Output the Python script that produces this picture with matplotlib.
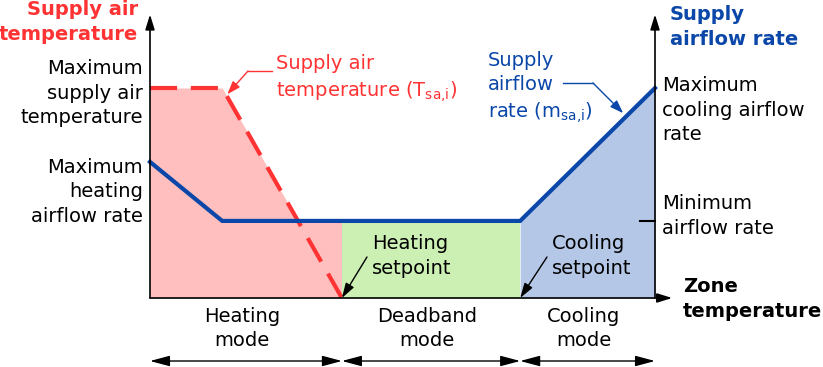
import numpy as np
import matplotlib

matplotlib.use("Agg")
import matplotlib.pyplot as plt
from matplotlib.lines import Line2D

# zone temperature axis, normalised 0..100 between the two vertical axes
ramp_end = 14.3
heating_sp = 38.0
cooling_sp = 73.3
x_max = 100.0

# supply air temperature (normalised to its maximum)
sat_x = [0.0, ramp_end, heating_sp]
sat_y = [1.0, 1.0, 0.0]

# supply airflow rate (normalised to the maximum cooling airflow)
flow_x = [0.0, ramp_end, cooling_sp, x_max]
flow_y = [0.648, 0.367, 0.367, 1.0]

mode_edges = [0.0, heating_sp, cooling_sp, x_max]
mode_labels = ["Heating\nmode", "Deadband\nmode", "Cooling\nmode"]

RED = "#ff3333"
BLUE = "#0a47a8"
PINK = "#ffbfbf"
GREEN = "#ccefb4"
LBLUE = "#b4c7e7"

W, H = 823, 367
FS = 14
plt.rcParams["font.family"] = ["DejaVu Sans"]

fig = plt.figure(figsize=(W / 100, H / 100), dpi=100)
ax = fig.add_axes([150 / W, (H - 298) / H, 505 / W, 210 / H])
ax.set_xlim(0, x_max)
ax.set_ylim(0, 1)
ax.axis("off")


def px(x, y):
    # pixel position measured from top-left -> figure pixels
    return (x, H - y)


def ftext(x, y, s, **kw):
    kw.setdefault("fontsize", FS)
    kw.setdefault("va", "center")
    kw.setdefault("linespacing", 1.37)
    fig.text(x / W, 1 - y / H, s, **kw)


# fills
xs = np.linspace(0, heating_sp, 400)
top = np.maximum(np.interp(xs, sat_x, sat_y), np.interp(xs, flow_x, flow_y))
ax.fill_between(xs, 0, top, color=PINK, lw=0)
xg = np.linspace(heating_sp, cooling_sp, 50)
ax.fill_between(xg, 0, np.interp(xg, flow_x, flow_y), color=GREEN, lw=0)
xb = np.linspace(cooling_sp, x_max, 50)
ax.fill_between(xb, 0, np.interp(xb, flow_x, flow_y), color=LBLUE, lw=0)

# lines
ax.plot(sat_x, sat_y, color=RED, lw=3, dashes=(6.5, 3.3), clip_on=False,
        dash_capstyle="butt")
ax.plot(flow_x, flow_y, color=BLUE, lw=3, clip_on=False, solid_joinstyle="miter")

# axes with arrows
axis_kw = dict(arrowstyle="-|>,head_length=0.9,head_width=0.28", color="black", lw=1.2,
               shrinkA=0, shrinkB=0)
ax.annotate("", xy=(0, 1.35), xytext=(0, 0), arrowprops=axis_kw, annotation_clip=False)
ax.annotate("", xy=(x_max, 1.35), xytext=(x_max, 0), arrowprops=axis_kw, annotation_clip=False)
ax.annotate("", xy=(103.4, 0), xytext=(0, 0), arrowprops=axis_kw, annotation_clip=False)
ax.plot([x_max - 3, x_max], [0.367, 0.367], color="black", lw=1.5, clip_on=False)

# mode spans
span_kw = dict(arrowstyle="<|-|>,head_length=1.2,head_width=0.32", color="black", lw=1.0,
               shrinkA=0, shrinkB=0)
for i, lab in enumerate(mode_labels):
    x0, x1 = mode_edges[i], mode_edges[i + 1]
    ax.annotate("", xy=(x0, -0.3), xytext=(x1, -0.3), arrowprops=span_kw,
                annotation_clip=False)
    ax.text((x0 + x1) / 2 - 0.8, -0.145, lab, ha="center", va="center", fontsize=FS,
            linespacing=1.37)

# setpoint pointers
ptr_kw = dict(arrowstyle="-|>,head_length=0.9,head_width=0.28", color="black", lw=1.0,
              shrinkA=0, shrinkB=0)
ax.annotate("", xy=(heating_sp, 0), xytext=px(367, 257), textcoords="figure pixels",
            arrowprops=ptr_kw, annotation_clip=False)
ax.annotate("", xy=(cooling_sp, 0), xytext=px(547, 257), textcoords="figure pixels",
            arrowprops=ptr_kw, annotation_clip=False)
ftext(372, 256, "Heating\nsetpoint", ha="left")
ftext(552, 256, "Cooling\nsetpoint", ha="left")

# series pointers
lead_kw = dict(arrowstyle="-|>,head_length=0.8,head_width=0.28", lw=1.0,
               shrinkA=0, shrinkB=0)
fig.add_artist(Line2D([248 / W, 272 / W], [1 - 71 / H, 1 - 71 / H], color=RED, lw=1.0))
ax.annotate("", xy=(15.3, 0.97), xytext=px(248, 71), textcoords="figure pixels",
            arrowprops=dict(color=RED, **lead_kw), annotation_clip=False)
ftext(276, 79, "Supply air\ntemperature (T$_{\\mathregular{sa{,}i}}$)", ha="left",
      color=RED)

fig.add_artist(Line2D([563 / W, 593 / W], [1 - 83 / H, 1 - 83 / H], color=BLUE, lw=1.0))
ax.annotate("", xy=(93.7, 0.88), xytext=px(593, 83), textcoords="figure pixels",
            arrowprops=dict(color=BLUE, **lead_kw), annotation_clip=False)
ftext(488, 88, "Supply\nairflow\nrate (m$_{\\mathregular{sa{,}i}}$)", ha="left",
      color=BLUE)

# axis titles and labels
ftext(138, 22, "Supply air\ntemperature", ha="right", color=RED, fontweight="bold",
      linespacing=1.4)
ftext(670, 27, "Supply\nairflow rate", ha="left", color=BLUE, fontweight="bold",
      linespacing=1.4)
ftext(683, 299, "Zone\ntemperature", ha="left", fontweight="bold", linespacing=1.35)

ftext(143, 93, "Maximum\nsupply air\ntemperature", ha="right")
ftext(143, 192, "Maximum\nheating\nairflow rate", ha="right")
ftext(662, 110, "Maximum\ncooling airflow\nrate", ha="left")
ftext(662, 216, "Minimum\nairflow rate", ha="left")

fig.savefig("out.png", dpi=100)
